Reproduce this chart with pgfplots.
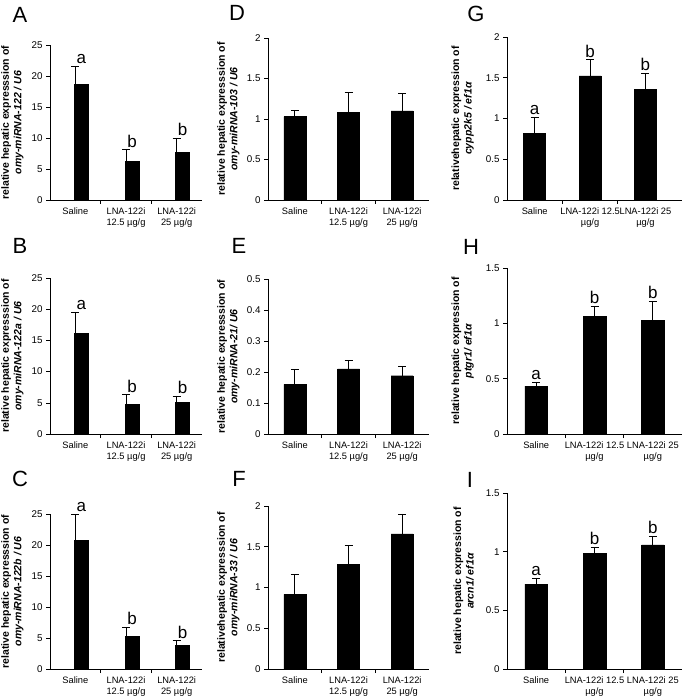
\documentclass[border=0pt]{standalone}
\usepackage{fontspec}
\setmainfont{Liberation Sans}
\usepackage{pgfplots}
\pgfplotsset{compat=1.18}
\pgfplotsset{
 panel/.style={
  scale only axis, axis lines*=left, clip=false,
  xmin=-0.5, xmax=2.5, ymin=0,
  xtick={0,1,2}, minor xtick={0.5,1.5},
  tick align=outside, major tick length=4pt, minor tick length=4pt,
  tick style={black, line width=0.6pt},
  major x tick style={draw=none},
  axis line style={line width=0.8pt},
  /pgf/number format/assume math mode=true,
  yticklabel style={font=\fontsize{9.8}{11}\selectfont},
  xticklabel style={font=\fontsize{9.3}{11.5}\selectfont, align=center},
  ylabel style={font=\bfseries\fontsize{10.5}{12.5}\selectfont, align=center, anchor=south},
 },
 cA/.style={panel, width=152pt, xticklabels={Saline,{LNA-122i\\12.5 µg/g},{LNA-122i\\25 µg/g}},
   ylabel style={at={(axis description cs:-0.15,0.5)}}},
 cB/.style={panel, width=161pt, xticklabels={Saline,{LNA-122i\\12.5 µg/g},{LNA-122i\\25 µg/g}},
   ylabel style={at={(axis description cs:-0.155,0.5)}}},
 cC/.style={panel, width=175pt, xticklabels={Saline,{LNA-122i 12.5\\µg/g},{LNA-122i 25\\µg/g}},
   ylabel style={at={(axis description cs:-0.17,0.5)}}},
 mybar/.style 2 args={ybar, fill=black, draw=black, bar width=#1, bar shift=#2,
   error bars/.cd, y dir=plus, y explicit,
   error bar style={line width=0.8pt, black},
   error mark options={rotate=90, mark size=4pt, line width=0.8pt, black}},
 letters/.style={draw=none, nodes near coords, point meta=explicit symbolic,
   nodes near coords style={anchor=south, font=\fontsize{17}{17}\selectfont, inner sep=1pt, yshift=1pt, xshift=#1}},
}
\newcommand{\plab}[3]{\node[font=\fontsize{22}{22}\selectfont, inner sep=0pt] at (#1pt,-#2pt) {#3};}
\begin{document}
\begin{tikzpicture}
\path[use as bounding box] (0,0) rectangle (685pt,-700pt);
% ---------- A
\begin{axis}[cA, at={(50pt,-200pt)}, anchor=south west, height=155pt, ymax=25, ytick={0,5,10,15,20,25},
  ylabel={relative hepatic expresssion of\\\textit{omy-miRNA-122 / U6}}]
\addplot[mybar={14pt}{6pt}] coordinates {(0,18.7) +- (0,2.9) (1,6.2) +- (0,1.9) (2,7.7) +- (0,2.3)};
\addplot[letters=6pt] coordinates {(0,21.6) [a] (1,8.1) [b] (2,10.0) [b]};
\end{axis}
% ---------- B
\begin{axis}[cA, at={(50pt,-434pt)}, anchor=south west, height=156pt, ymax=25, ytick={0,5,10,15,20,25},
  ylabel={relative hepatic expresssion of\\\textit{omy-miRNA-122a / U6}}]
\addplot[mybar={14pt}{6pt}] coordinates {(0,16.1) +- (0,3.4) (1,4.8) +- (0,1.5) (2,5.1) +- (0,1.0)};
\addplot[letters=6pt] coordinates {(0,19.5) [a] (1,6.3) [b] (2,6.1) [b]};
\end{axis}
% ---------- C
\begin{axis}[cA, at={(50pt,-669pt)}, anchor=south west, height=155pt, ymax=25, ytick={0,5,10,15,20,25},
  ylabel={relative hepatic expresssion of\\\textit{omy-miRNA-122b / U6}}]
\addplot[mybar={14pt}{6pt}] coordinates {(0,20.7) +- (0,4.3) (1,5.3) +- (0,1.45) (2,3.8) +- (0,0.75)};
\addplot[letters=6pt] coordinates {(0,25.0) [a] (1,6.75) [b] (2,4.55) [b]};
\end{axis}
% ---------- D
\begin{axis}[cB, at={(268pt,-200pt)}, anchor=south west, height=162pt, ymax=2, ytick={0,0.5,1,1.5,2},
  ylabel={relative hepatic expresssion of\\\textit{omy-miRNA-103 / U6}}]
\addplot[mybar={22pt}{0pt}] coordinates {(0,1.03) +- (0,0.08) (1,1.08) +- (0,0.25) (2,1.10) +- (0,0.22)};
\end{axis}
% ---------- E
\begin{axis}[cB, at={(268pt,-434pt)}, anchor=south west, height=155pt, ymax=0.5, ytick={0,0.1,0.2,0.3,0.4,0.5},
  ylabel={relative hepatic expresssion of\\\textit{omy-miRNA-21/ U6}}]
\addplot[mybar={22pt}{0pt}] coordinates {(0,0.16) +- (0,0.047) (1,0.21) +- (0,0.027) (2,0.188) +- (0,0.029)};
\end{axis}
% ---------- F
\begin{axis}[cB, at={(268pt,-669pt)}, anchor=south west, height=163pt, ymax=2, ytick={0,0.5,1,1.5,2},
  ylabel={relativehepatic expresssion of\\\textit{omy-miRNA-33 / U6}}]
\addplot[mybar={22pt}{0pt}] coordinates {(0,0.917) +- (0,0.24) (1,1.287) +- (0,0.224) (2,1.658) +- (0,0.244)};
\end{axis}
% ---------- G
\begin{axis}[cC, at={(507pt,-200pt)}, anchor=south west, height=163pt, xmax=2.66, ymax=2, ytick={0,0.5,1,1.5,2},
  ylabel={relativehepatic expression of\\\textit{cypp2k5 / ef1α}}]
\addplot[mybar={22pt}{0pt}] coordinates {(0,0.815) +- (0,0.203) (1,1.523) +- (0,0.2) (2,1.356) +- (0,0.2)};
\addplot[letters=0pt] coordinates {(0,1.018) [a] (1,1.723) [b] (2,1.556) [b]};
\end{axis}
% ---------- H
\begin{axis}[cC, at={(507pt,-434pt)}, anchor=south west, height=166pt, ymax=1.5, ytick={0,0.5,1,1.5},
  ylabel={relative hepatic expression of\\\textit{ptgr1/ ef1α}}]
\addplot[mybar={22.5pt}{0pt}] coordinates {(0,0.432) +- (0,0.038) (1,1.063) +- (0,0.091) (2,1.03) +- (0,0.17)};
\addplot[letters=0pt] coordinates {(0,0.47) [a] (1,1.154) [b] (2,1.2) [b]};
\end{axis}
% ---------- I
\begin{axis}[cC, at={(507pt,-669pt)}, anchor=south west, height=176pt, ymax=1.5, ytick={0,0.5,1,1.5},
  ylabel={relative hepatic expression of\\\textit{arcn1/ ef1α}}]
\addplot[mybar={22.5pt}{0pt}] coordinates {(0,0.724) +- (0,0.052) (1,0.983) +- (0,0.054) (2,1.057) +- (0,0.074)};
\addplot[letters=0pt] coordinates {(0,0.776) [a] (1,1.037) [b] (2,1.131) [b]};
\end{axis}
% panel letters
\plab{20}{15}{A}
\plab{237}{13}{D}
\plab{476}{14}{G}
\plab{20}{246}{B}
\plab{239}{246}{E}
\plab{471}{247}{H}
\plab{20}{479}{C}
\plab{239}{479}{F}
\plab{470}{480}{I}
\end{tikzpicture}
\end{document}
